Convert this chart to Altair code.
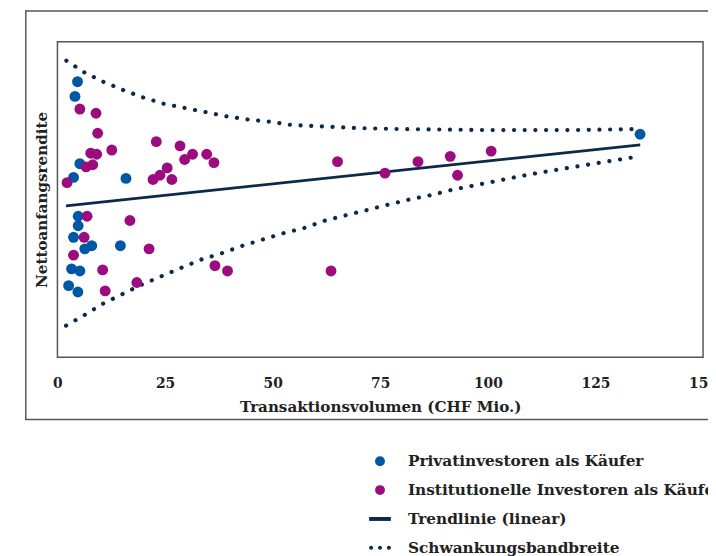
import altair as alt
import pandas as pd

S1 = "Privatinvestoren als Käufer"
S2 = "Institutionelle Investoren als Käufer"
S3 = "Trendlinie (linear)"
S4 = "Schwankungsbandbreite"

priv_x = [4.66, 4.07, 5.21, 3.74, 15.92, 4.82, 4.82, 3.74, 6.36, 7.97, 14.63, 3.28, 5.21, 2.60, 4.75, 135.37]
priv_y = [4.62, 4.48, 3.84, 3.71, 3.70, 3.34, 3.25, 3.14, 3.03, 3.06, 3.06, 2.84, 2.82, 2.68, 2.62, 4.12]

inst_x = [5.21, 8.96, 9.35, 7.74, 9.12, 12.63, 6.66, 8.20, 2.23, 22.97, 28.48, 31.40, 29.56, 34.68,
          36.36, 25.50, 23.82, 22.21, 26.58, 6.89, 16.84, 6.20, 21.29, 3.74, 10.50, 18.45, 11.09,
          36.59, 39.51, 65.08, 76.10, 83.77, 91.26, 92.96, 100.77, 63.56]
inst_y = [4.36, 4.32, 4.13, 3.94, 3.93, 3.97, 3.81, 3.83, 3.66, 4.05, 4.01, 3.93, 3.88, 3.93,
          3.85, 3.80, 3.73, 3.69, 3.69, 3.34, 3.30, 3.14, 3.03, 2.97, 2.83, 2.71, 2.63,
          2.87, 2.82, 3.86, 3.75, 3.86, 3.91, 3.73, 3.96, 2.82]

trend_x = [2.0, 135.4]
trend_y = [3.44, 4.02]

upper_x = [2.07, 6.20, 10.64, 15.32, 19.92, 24.74, 29.63, 34.53, 39.35, 44.33, 49.23, 54.14,
           59.10, 64.16, 68.98, 78.56, 99.23, 119.9, 135.5]
upper_y = [4.82, 4.71, 4.62, 4.54, 4.47, 4.41, 4.37, 4.33, 4.29, 4.26, 4.24, 4.21,
           4.20, 4.19, 4.18, 4.17, 4.16, 4.16, 4.17]

lower_x = [2.0, 6.27, 10.64, 15.09, 19.59, 24.19, 28.78, 33.54, 38.29, 43.02, 47.78, 52.60,
           57.43, 62.25, 67.07, 71.97, 76.79, 81.78, 86.67, 91.49, 96.41, 101.37, 106.12,
           111.34, 118.69, 126.04, 135.23]
lower_y = [2.30, 2.40, 2.51, 2.60, 2.69, 2.77, 2.85, 2.93, 2.99, 3.06, 3.12, 3.18,
           3.23, 3.30, 3.35, 3.40, 3.45, 3.50, 3.54, 3.59, 3.63, 3.67, 3.71,
           3.75, 3.80, 3.85, 3.91]

x_ticks = [0, 25, 50, 75, 100, 125, 150]

BLUE = "#0057a6"
PURPLE = "#9c0c7e"
NAVY = "#0b2a4a"
FRAME = "#555555"
TEXT = "#222222"

pts = pd.DataFrame({
    "x": priv_x + inst_x,
    "y": priv_y + inst_y,
    "serie": [S1] * len(priv_x) + [S2] * len(inst_x),
})
trend = pd.DataFrame({"x": trend_x, "y": trend_y})
upper = pd.DataFrame({"x": upper_x, "y": upper_y})
lower = pd.DataFrame({"x": lower_x, "y": lower_y})

xs = alt.Scale(domain=[0, 150], nice=False)
ys = alt.Scale(domain=[2, 5], nice=False, zero=False)

X = alt.X("x:Q", scale=xs, axis=alt.Axis(
    values=x_ticks, title="Transaktionsvolumen (CHF Mio.)", grid=False, ticks=False,
    tickSize=0, domain=False, labelPadding=20, titlePadding=9, labelFlush=False))
Y = alt.Y("y:Q", scale=ys, axis=alt.Axis(
    title="Nettoanfangsrendite", labels=False, ticks=False, tickSize=0, domain=False,
    grid=False, titlePadding=8))

dots_path = ("M-2.2,0a0.4,0.4 0 1,0 0.8,0a0.4,0.4 0 1,0 -0.8,0Z "
             "M-0.4,0a0.4,0.4 0 1,0 0.8,0a0.4,0.4 0 1,0 -0.8,0Z "
             "M1.4,0a0.4,0.4 0 1,0 0.8,0a0.4,0.4 0 1,0 -0.8,0Z")
bar_path = "M-2.2,-0.4H2.2V0.4H-2.2Z"

dom = [S1, S2, S3, S4]
leg = alt.Legend(title=None, orient="none", legendX=318.5, legendY=416.5)

frame = alt.Chart(pd.DataFrame({"a": [0]})).mark_rect(
    fill="transparent", stroke=FRAME, strokeWidth=1.5
).encode(x=alt.value(-32), x2=alt.value(700), y=alt.value(-31), y2=alt.value(382))

band_u = alt.Chart(upper).mark_line(
    color=NAVY, strokeWidth=4.2, strokeDash=[0.1, 10.7], strokeCap="round"
).encode(x=X, y=Y)
band_l = alt.Chart(lower).mark_line(
    color=NAVY, strokeWidth=4.2, strokeDash=[0.1, 10.8], strokeCap="round"
).encode(x=X, y=Y)
trend_line = alt.Chart(trend).mark_line(color=NAVY, strokeWidth=2.8).encode(x=X, y=Y)

points = alt.Chart(pts).mark_point(filled=True, opacity=1, size=121).encode(
    x=X, y=Y,
    color=alt.Color("serie:N", scale=alt.Scale(domain=dom, range=[BLUE, PURPLE, NAVY, NAVY]), legend=leg),
    shape=alt.Shape("serie:N", scale=alt.Scale(domain=dom, range=["circle", "circle", bar_path, dots_path]), legend=leg),
)

chart = alt.layer(frame, band_u, band_l, trend_line, points).properties(
    width=653, height=319,
    autosize=alt.AutoSizeParams(type="none"),
    padding={"left": 50, "top": 31, "right": 5, "bottom": 200},
).configure_view(
    stroke=FRAME, strokeWidth=1.5
).configure_axis(
    labelFont="DejaVu Serif", labelFontSize=14, labelFontWeight="bold", labelColor=TEXT,
    titleFont="DejaVu Serif", titleFontSize=15.3, titleFontWeight="bold", titleColor=TEXT,
).configure_legend(
    labelFont="DejaVu Serif", labelFontSize=15.5, labelFontWeight="bold", labelColor=TEXT,
    symbolSize=100, rowPadding=12.2, labelOffset=20.5, padding=0, symbolOffset=0,
    symbolStrokeWidth=0, labelLimit=0,
)

chart.save("out.html", embed_options={"renderer": "svg", "actions": False})
